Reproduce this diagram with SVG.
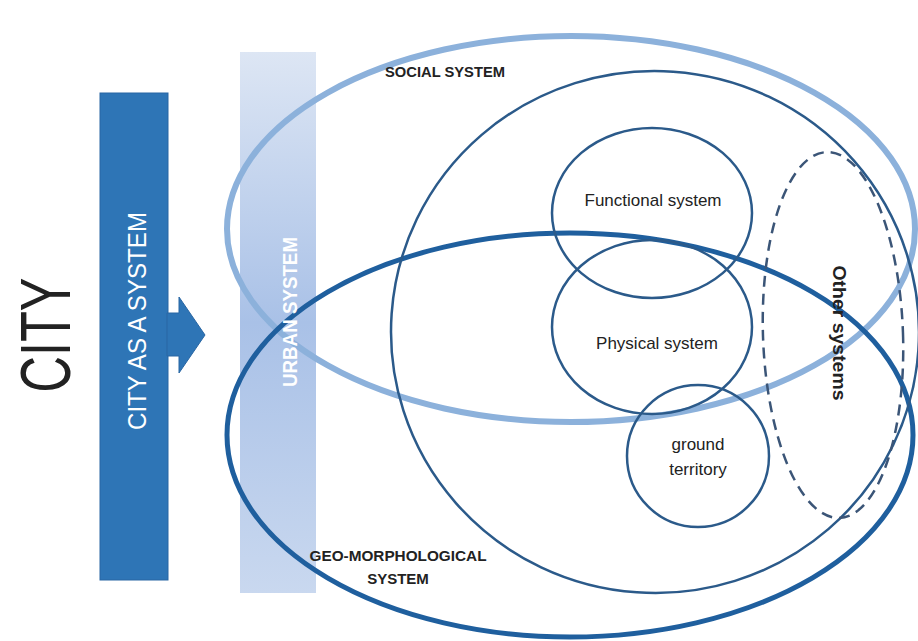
<svg xmlns="http://www.w3.org/2000/svg" width="918" height="641" viewBox="0 0 918 641">
<defs>
<linearGradient id="urbanGrad" x1="0" y1="0" x2="0" y2="1">
<stop offset="0" stop-color="#DDE6F4"/>
<stop offset="0.5" stop-color="#A9C1E7"/>
<stop offset="1" stop-color="#C9D8EF"/>
</linearGradient>
</defs>
<style>
.thin{fill:none;stroke:#2B5A8A;stroke-width:2.5}
.lbl{font-family:"Liberation Sans",Arial,sans-serif;fill:#222}
.bold{font-weight:bold}
</style>
<rect width="918" height="641" fill="#FFFFFF"/>

<g id="city-label">
<text class="lbl" transform="translate(70,335) rotate(-90)" text-anchor="middle" font-size="70" textLength="115" lengthAdjust="spacingAndGlyphs" fill="#111">CITY</text>
</g>

<g id="city-as-a-system">
<rect x="100" y="93" width="68" height="487" fill="#2E75B6" stroke="#2966A3" stroke-width="1"/>
<polygon points="167,313 179,313 179,297 205,335 179,373 179,356 167,356" fill="#2E75B6" stroke="#2966A3" stroke-width="1"/>
<text class="lbl" transform="translate(146,321) rotate(-90)" text-anchor="middle" font-size="26" textLength="218" lengthAdjust="spacingAndGlyphs" fill="#FFFFFF" style="fill:#FFFFFF">CITY AS A SYSTEM</text>
</g>

<g id="urban-system">
<rect x="240" y="52" width="76" height="541" fill="url(#urbanGrad)"/>
</g>

<g id="social-system">
<ellipse cx="571" cy="229" rx="344" ry="193" fill="none" stroke="#8CB1DB" stroke-width="6"/>
<text class="lbl bold" x="445" y="77" text-anchor="middle" font-size="15" textLength="120" lengthAdjust="spacingAndGlyphs">SOCIAL SYSTEM</text>
</g>

<g id="geo-morphological-system">
<ellipse cx="570" cy="435" rx="343" ry="202" fill="none" stroke="#1F5F9E" stroke-width="5"/>
<text class="lbl bold" x="398" y="561" text-anchor="middle" font-size="15" textLength="177" lengthAdjust="spacingAndGlyphs">GEO-MORPHOLOGICAL</text>
<text class="lbl bold" x="398" y="584" text-anchor="middle" font-size="15">SYSTEM</text>
</g>

<g id="inner-system">
<ellipse class="thin" cx="655" cy="332" rx="264" ry="261" transform="rotate(4 655 332)"/>
</g>

<g id="functional-system">
<ellipse class="thin" cx="652" cy="213" rx="100" ry="85"/>
<text class="lbl" x="653" y="206" text-anchor="middle" font-size="17">Functional system</text>
</g>

<g id="physical-system">
<ellipse class="thin" cx="652" cy="327" rx="100" ry="87"/>
<text class="lbl" x="657" y="349" text-anchor="middle" font-size="17">Physical system</text>
</g>

<g id="ground-territory">
<ellipse class="thin" cx="698" cy="456" rx="71" ry="71"/>
<text class="lbl" x="698" y="450" text-anchor="middle" font-size="17">ground</text>
<text class="lbl" x="698" y="475" text-anchor="middle" font-size="17">territory</text>
</g>

<g id="other-systems">
<ellipse cx="833" cy="335" rx="70" ry="183" transform="rotate(-2 833 335)" fill="none" stroke="#3B5577" stroke-width="2.5" stroke-dasharray="11 7"/>
<text class="lbl bold" transform="translate(833,333) rotate(90)" text-anchor="middle" font-size="18" textLength="135" lengthAdjust="spacingAndGlyphs">Other systems</text>
</g>

<g id="urban-label">
<text class="lbl bold" transform="translate(297,312) rotate(-90)" text-anchor="middle" font-size="20" textLength="150" lengthAdjust="spacingAndGlyphs" style="fill:#FFFFFF">URBAN SYSTEM</text>
</g>

<g id="connectors"></g>
</svg>
